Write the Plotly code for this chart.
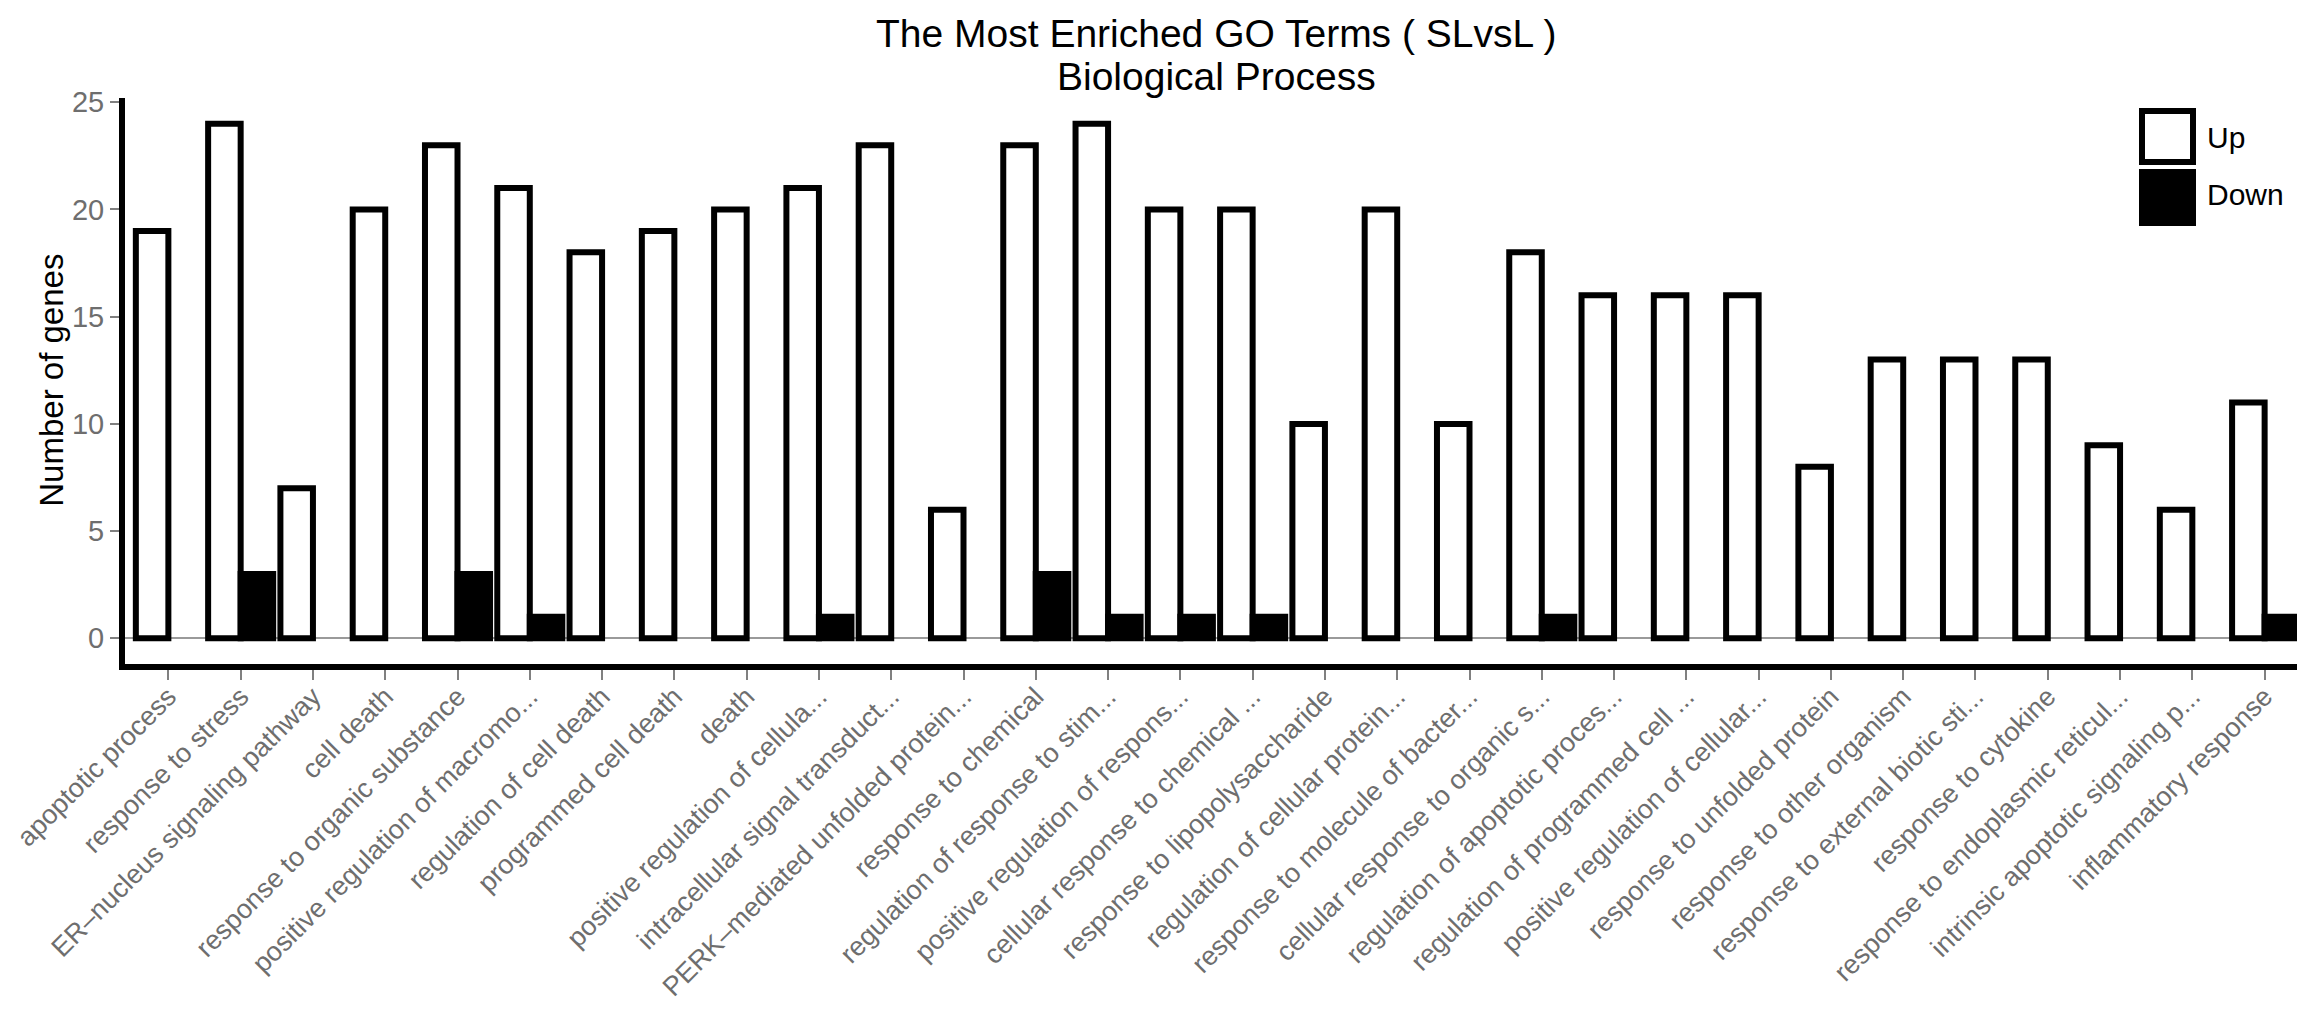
import plotly.graph_objects as go

# GO terms (x categories) and gene counts
terms = [
    "apoptotic process",
    "response to stress",
    "ER–nucleus signaling pathway",
    "cell death",
    "response to organic substance",
    "positive regulation of macromo...",
    "regulation of cell death",
    "programmed cell death",
    "death",
    "positive regulation of cellula...",
    "intracellular signal transduct...",
    "PERK–mediated unfolded protein...",
    "response to chemical",
    "regulation of response to stim...",
    "positive regulation of respons...",
    "cellular response to chemical ...",
    "response to lipopolysaccharide",
    "regulation of cellular protein...",
    "response to molecule of bacter...",
    "cellular response to organic s...",
    "regulation of apoptotic proces...",
    "regulation of programmed cell ...",
    "positive regulation of cellular...",
    "response to unfolded protein",
    "response to other organism",
    "response to external biotic sti...",
    "response to cytokine",
    "response to endoplasmic reticul...",
    "intrinsic apoptotic signaling p...",
    "inflammatory response",
]
up_genes = [19, 24, 7, 20, 23, 21, 18, 19, 20, 21, 23, 6, 23, 24, 20,
            20, 10, 20, 10, 18, 16, 16, 16, 8, 13, 13, 13, 9, 6, 11]
down_genes = [0, 3, 0, 0, 3, 1, 0, 0, 0, 1, 0, 0, 3, 1, 1,
              1, 0, 0, 0, 1, 0, 0, 0, 0, 0, 0, 0, 0, 0, 1]
y_ticks = [0, 5, 10, 15, 20, 25]

# page and panel geometry (pixels)
W, H = 2305, 1025
L, R, T, B = 117, 2300, 90, 656.5

FONT = "Liberation Sans, Arial, Helvetica, sans-serif"
GREY_TXT = "#6e6e6e"
GREY_TICK = "#808080"


def px_x(p):
    return (p - L) / (R - L)


def px_y(p):
    return (B - p) / (B - T)


fig = go.Figure()
fig.add_trace(go.Bar(
    x=terms, y=up_genes, name="Up",
    marker=dict(color="white", line=dict(color="black", width=6)),
))
fig.add_trace(go.Bar(
    x=terms, y=down_genes, name="Down",
    marker=dict(color="black",
                line=dict(color="black",
                          width=[6 if v > 0 else 0 for v in down_genes])),
))

fig.update_layout(
    width=W, height=H, autosize=False,
    margin=dict(l=L, r=W - R, t=T, b=H - B, pad=0, autoexpand=False),
    barmode="group", bargap=0.1, bargroupgap=0,
    showlegend=False,
    plot_bgcolor="white", paper_bgcolor="white",
    font=dict(family=FONT, color="black"),
)
fig.update_xaxes(
    type="category", range=[-0.6, len(terms) - 0.4], automargin=False,
    showline=True, linecolor="black", linewidth=6,
    ticks="outside", ticklen=10, tickwidth=2, tickcolor=GREY_TICK,
    tickangle=-45, tickfont=dict(size=27, color=GREY_TXT, family=FONT),
    ticklabelstandoff=-10,
    showgrid=False, zeroline=False,
)
fig.update_yaxes(
    range=[-1.2, 25.2], tickvals=y_ticks, automargin=False,
    showline=True, linecolor="black", linewidth=6,
    ticks="outside", ticklen=9, tickwidth=2, tickcolor=GREY_TICK,
    tickfont=dict(size=29, color=GREY_TXT, family=FONT),
    showgrid=False, zeroline=True, zerolinecolor="#9a9a9a", zerolinewidth=1.5,
)

# titles
fig.add_annotation(text="The Most Enriched GO Terms ( SLvsL )",
                   xref="paper", yref="paper", x=0.5, y=px_y(25),
                   xanchor="center", yanchor="middle", showarrow=False,
                   font=dict(size=39, color="black"))
fig.add_annotation(text="Biological Process",
                   xref="paper", yref="paper", x=0.5, y=px_y(68),
                   xanchor="center", yanchor="middle", showarrow=False,
                   font=dict(size=39, color="black"))
fig.add_annotation(text="Number of genes", textangle=-90,
                   xref="paper", yref="paper", x=px_x(44), y=px_y(373),
                   xanchor="center", yanchor="middle", showarrow=False,
                   font=dict(size=33, color="black"))

# legend drawn as boxes at top right
fig.add_shape(type="rect", xref="paper", yref="paper",
              x0=px_x(2134), x1=px_x(2185), y0=px_y(154), y1=px_y(103),
              fillcolor="white", line=dict(color="black", width=6))
fig.add_shape(type="rect", xref="paper", yref="paper",
              x0=px_x(2131), x1=px_x(2188), y0=px_y(218), y1=px_y(161),
              fillcolor="black", line=dict(color="black", width=0))
for label, cy in [("Up", 130), ("Down", 187)]:
    fig.add_annotation(text=label, xref="paper", yref="paper",
                       x=px_x(2197), y=px_y(cy), xanchor="left",
                       yanchor="middle", showarrow=False,
                       font=dict(size=30, color="black"))

fig.write_html("out.html")
